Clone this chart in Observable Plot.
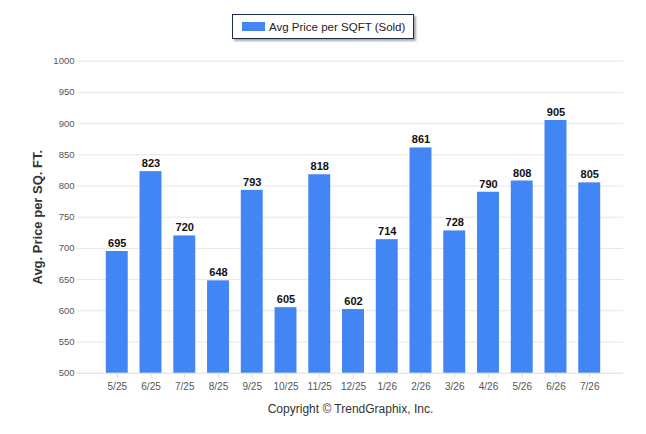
<!DOCTYPE html>
<html>
<head>
<meta charset="utf-8">
<script src="https://cdn.jsdelivr.net/npm/d3@7"></script>
<script src="https://cdn.jsdelivr.net/npm/@observablehq/plot@0.6"></script>
<style>
  body { margin: 0; background: #fff; font-family: "Liberation Sans", Arial, sans-serif; }
  #wrap { position: relative; width: 646px; height: 434px; }
  #legend { position: absolute; left: 232px; top: 14px; width: 182px; height: 25px;
    border: 1px solid #1f2d4d; box-shadow: 2px 2px 2px rgba(0,0,0,0.35); background: #fff;
    font-size: 11.5px; color: #222; display: flex; align-items: center; box-sizing: border-box; }
  #legend .sw { width: 23px; height: 9px; background: #4285f4; margin-left: 9px; margin-right: 4px; }
</style>
</head>
<body>
<div id="wrap">
  <div id="chart"></div>
  <div id="legend"><span class="sw"></span><span>Avg Price per SQFT (Sold)</span></div>
</div>
<script>
const months = ["5/25","6/25","7/25","8/25","9/25","10/25","11/25","12/25","1/26","2/26","3/26","4/26","5/26","6/26","7/26"];
const prices = [695,823,720,648,793,605,818,602,714,861,728,790,808,905,805];
const yTicks = [500,550,600,650,700,750,800,850,900,950,1000];

const data = months.map((m, i) => ({month: m, price: prices[i]}));

const chart = Plot.plot({
  width: 646,
  height: 434,
  marginLeft: 77,
  marginRight: 23,
  marginTop: 60.7,
  marginBottom: 61.3,
  style: { fontFamily: "'Liberation Sans', Arial, sans-serif", background: "#fff" },
  x: { domain: months, range: [99.9, 606.1], paddingInner: 0.35, paddingOuter: 0.175, round: false, label: null },
  y: { domain: [500, 1000], ticks: yTicks, label: null },
  marks: [
    Plot.ruleY(yTicks.filter(d => d > 500), { stroke: "#e6e6e6", strokeWidth: 1 }),
    Plot.ruleY([500], { stroke: "#dcdcdc", strokeWidth: 1 }),
    Plot.barY(data, { x: "month", y1: 500, y2: "price", fill: "#4285f4" }),
    Plot.text(data, { x: "month", y: "price", text: d => String(d.price), dy: -8,
      fontWeight: "bold", fontSize: 11, fill: "#111" }),
    Plot.axisY({ ticks: yTicks, tickFormat: d3.format("d"), tickSize: 0, tickPadding: 3, fontSize: 9.5, color: "#555", label: null }),
    Plot.axisX({ tickSize: 5, tickPadding: 5, fontSize: 10, color: "#555", stroke: "#dcdcdc", label: null }),
    Plot.text(["Avg. Price per SQ. FT."], { frameAnchor: "left", dx: -40, rotate: -90, textAnchor: "middle",
      fontWeight: "bold", fontSize: 13, fill: "#333" }),
    Plot.text(["Copyright © TrendGraphix, Inc."], { frameAnchor: "bottom", dy: 40,
      fontSize: 12, fill: "#333" })
  ]
});
document.getElementById("chart").appendChild(chart);
</script>
</body>
</html>
